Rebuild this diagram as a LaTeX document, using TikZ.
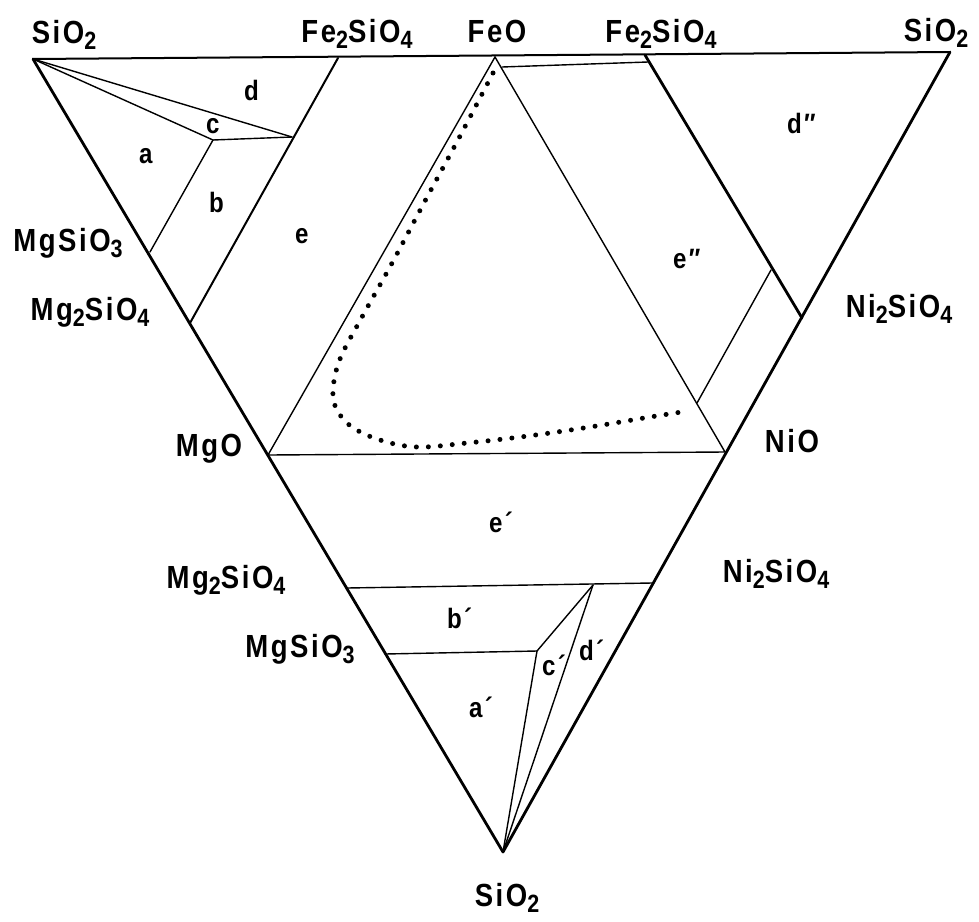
\documentclass[tikz,border=0pt]{standalone}
\usepackage{fontspec}
\setmainfont{Liberation Sans}[LetterSpace=8, FakeStretch=0.86]
\newcommand\chemsub[1]{\raisebox{-6pt}{\fontsize{25}{25}\selectfont #1}}
\begin{document}
\begin{tikzpicture}[x=1pt,y=-1pt,
  thickline/.style={line width=2.8pt, line cap=round, line join=round},
  midline/.style={line width=2pt, line cap=round},
  thinline/.style={line width=1.4pt, line cap=round},
  formula/.style={font=\fontsize{32}{32}\selectfont\bfseries, anchor=base, inner sep=0pt},
  field/.style={font=\fontsize{28}{28}\selectfont\bfseries, anchor=base west, inner sep=0pt},
  dotcurve/.style={line width=5pt, line cap=round, dash pattern=on 0pt off 12pt}]
\useasboundingbox (0,0) rectangle (979,921);

% vertices
\coordinate (S1) at (33,59);
\coordinate (S2) at (950,52);
\coordinate (S3) at (503,852);
\coordinate (FeO) at (495,57);
\coordinate (MgO) at (268,455);
\coordinate (NiO) at (725,452);
\coordinate (F1) at (338,58);
\coordinate (F2) at (645,55);
\coordinate (M2) at (190,323);
\coordinate (M1) at (150,252);
\coordinate (C1) at (213,140);
\coordinate (C2) at (292,137);
\coordinate (N2) at (802,318);
\coordinate (P1) at (771,270);
\coordinate (P2) at (697,403);
\coordinate (Q1) at (502,67);
\coordinate (Q2) at (648,62);
\coordinate (L2) at (347,588);
\coordinate (R2) at (652,583);
\coordinate (L1) at (385,654);
\coordinate (K1) at (537,651);
\coordinate (K2) at (593,585);

% outer frame
\draw[thickline] (S1) -- (S3) -- (S2);
\draw[midline] (S1) -- (S2);

% left (Mg-Fe) triangle
\draw[midline] (F1) -- (M2);
\draw[thinline] (S1) -- (C2);
\draw[thinline] (S1) -- (C1);
\draw[thinline] (C1) -- (C2);
\draw[thinline] (C1) -- (M1);

% central FeO-MgO-NiO triangle
\draw[thinline] (FeO) -- (MgO) -- (NiO) -- cycle;

% right (Fe-Ni) triangle
\draw[thickline] (F2) -- (N2);
\draw[thinline] (Q1) -- (Q2);
\draw[thinline] (P1) -- (P2);

% lower (Mg-Ni) triangle
\draw[thinline] (L2) -- (R2);
\draw[thinline] (L1) -- (K1);
\draw[thinline] (K1) -- (K2);
\draw[thinline] (S3) -- (K1);
\draw[thinline] (S3) -- (K2);

% dotted curve
\draw[dotcurve] plot[smooth, tension=0.6] coordinates {(493,73) (459,138) (425,201) (391,265) (362,317) (340,359) (333,390) (337,410) (352,427) (380,440) (417,447) (467,443) (528,436) (590,427) (650,417) (688,411)};

% compound labels
\node[formula] (lSiO2a) at (64,43) {SiO\chemsub{2}};
\node[formula] (lFe2SiO4a) at (357,42) {Fe\chemsub{2}SiO\chemsub{4}};
\node[formula] (lFeO) at (497,42) {FeO};
\node[formula] (lFe2SiO4b) at (661,42) {Fe\chemsub{2}SiO\chemsub{4}};
\node[formula] (lSiO2b) at (936,41) {SiO\chemsub{2}};
\node[formula] (lMgSiO3a) at (68,251) {MgSiO\chemsub{3}};
\node[formula] (lMg2SiO4a) at (90,320) {Mg\chemsub{2}SiO\chemsub{4}};
\node[formula] (lMgO) at (209,456) {MgO};
\node[formula] (lNi2SiO4a) at (899,317) {Ni\chemsub{2}SiO\chemsub{4}};
\node[formula] (lNiO) at (792,452) {NiO};
\node[formula] (lMg2SiO4b) at (226,588) {Mg\chemsub{2}SiO\chemsub{4}};
\node[formula] (lMgSiO3b) at (300,657) {MgSiO\chemsub{3}};
\node[formula] (lNi2SiO4b) at (776,582) {Ni\chemsub{2}SiO\chemsub{4}};
\node[formula] (lSiO2c) at (507,906) {SiO\chemsub{2}};

% field labels
\node[field] (fa) at (139,163) {a};
\node[field] (fb) at (209,212) {b};
\node[field] (fc) at (206,133) {c};
\node[field] (fd) at (244,100) {d};
\node[field] (fe) at (295,243) {e};
\node[field] (fe2) at (673,268) {e″};
\node[field] (fd2) at (787,133) {d″};
\node[field] (fe1) at (489,532) {e´};
\node[field] (fb1) at (447,628) {b´};
\node[field] (fc1) at (542,675) {c´};
\node[field] (fd1) at (579,660) {d´};
\node[field] (fa1) at (469,717) {a´};
\end{tikzpicture}
\end{document}
